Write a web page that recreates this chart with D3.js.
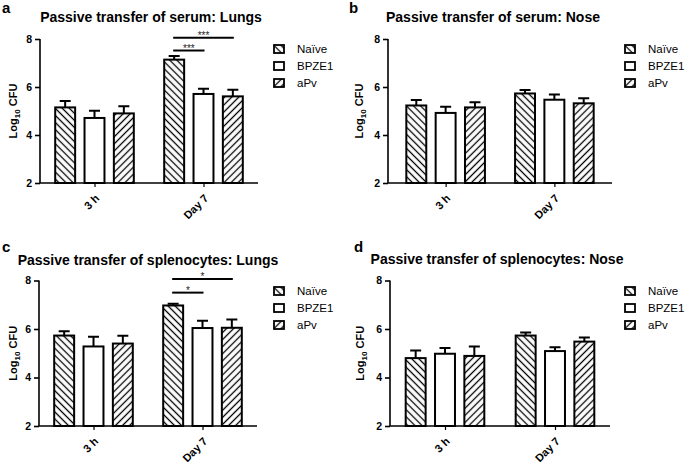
<!DOCTYPE html>
<html>
<head>
<meta charset="utf-8">
<script src="https://cdn.jsdelivr.net/npm/d3@7"></script>
<style>
  body { margin: 0; background: #fff; }
  svg { display: block; font-family: Arial, "Liberation Sans", sans-serif; }
</style>
</head>
<body>
<svg id="chart" width="685" height="465"></svg>
<script>
// categories
const groups = ["3 h", "Day 7"];
const series = ["Naïve", "BPZE1", "aPv"];
const yTicks = [2, 4, 6, 8];

// values, order: 3 h (Naïve, BPZE1, aPv), Day 7 (Naïve, BPZE1, aPv)
const serumLungsMean = [5.15, 4.71, 4.90, 7.14, 5.71, 5.61];
const serumLungsErr  = [0.27, 0.30, 0.30, 0.15, 0.22, 0.28];
const serumNoseMean  = [5.23, 4.92, 5.15, 5.73, 5.47, 5.32];
const serumNoseErr   = [0.23, 0.26, 0.21, 0.14, 0.22, 0.21];
const splenLungsMean = [5.73, 5.28, 5.40, 6.97, 6.04, 6.05];
const splenLungsErr  = [0.18, 0.40, 0.32, 0.07, 0.30, 0.34];
const splenNoseMean  = [4.80, 4.98, 4.89, 5.73, 5.09, 5.48];
const splenNoseErr   = [0.31, 0.24, 0.39, 0.13, 0.16, 0.17];

// significance brackets (Day 7)
const serumLungsSig = [
  {from: "Naïve", to: "BPZE1", level: 7.52, label: "***"},
  {from: "Naïve", to: "aPv", level: 8.05, label: "***"}
];
const splenLungsSig = [
  {from: "Naïve", to: "BPZE1", level: 7.5, label: "*"},
  {from: "Naïve", to: "aPv", level: 8.06, label: "*"}
];

const panels = [
  {letter: "a", title: "Passive transfer of serum: Lungs", mean: serumLungsMean, err: serumLungsErr, sig: serumLungsSig,
   x0: 40, x1: 258, pad: 0.5, yTop: 39, yBot: 183, letterX: 2, letterY: 13, titleX: 151, titleY: 22, ylabX: 17, legX: 274, legY: 49},
  {letter: "b", title: "Passive transfer of serum: Nose", mean: serumNoseMean, err: serumNoseErr, sig: [],
   x0: 388, x1: 612, pad: 0.53, yTop: 39, yBot: 183, letterX: 349, letterY: 13, titleX: 493, titleY: 22, ylabX: 363, legX: 625, legY: 49},
  {letter: "c", title: "Passive transfer of splenocytes: Lungs", mean: splenLungsMean, err: splenLungsErr, sig: splenLungsSig,
   x0: 39, x1: 257, pad: 0.5, yTop: 280.5, yBot: 426, letterX: 2, letterY: 252, titleX: 148, titleY: 265, ylabX: 17, legX: 274, legY: 291},
  {letter: "d", title: "Passive transfer of splenocytes: Nose", mean: splenNoseMean, err: splenNoseErr, sig: [],
   x0: 390, x1: 610, pad: 0.5, yTop: 280.5, yBot: 426, letterX: 354, letterY: 252, titleX: 497, titleY: 264, ylabX: 364, legX: 625, legY: 291}
];

const svg = d3.select("#chart");
const defs = svg.append("defs");

function hatch(id, angle) {
  const p = defs.append("pattern")
    .attr("id", id)
    .attr("patternUnits", "userSpaceOnUse")
    .attr("width", 5).attr("height", 5)
    .attr("patternTransform", `rotate(${angle})`);
  p.append("rect").attr("width", 5).attr("height", 5).attr("fill", "#fff");
  p.append("line").attr("x1", 2.5).attr("y1", -1).attr("x2", 2.5).attr("y2", 6)
    .attr("stroke", "#000").attr("stroke-width", 1.3);
}
hatch("hatchBack", -45);
hatch("hatchFwd", 45);

const fill = d3.scaleOrdinal()
  .domain(series)
  .range(["url(#hatchBack)", "#fff", "url(#hatchFwd)"]);

function drawPanel(cfg) {
  const g = svg.append("g");

  const x = d3.scalePoint()
    .domain(groups)
    .range([cfg.x0, cfg.x1])
    .padding(cfg.pad);

  const inner = d3.scaleBand()
    .domain(series)
    .range([-44, 44])
    .paddingInner(0.32)
    .paddingOuter(0.16);

  const y = d3.scaleLinear()
    .domain([2, 8])
    .range([cfg.yBot, cfg.yTop]);

  const data = [];
  groups.forEach((grp, gi) => {
    series.forEach((s, si) => {
      data.push({group: grp, series: s, mean: cfg.mean[gi * 3 + si], err: cfg.err[gi * 3 + si]});
    });
  });

  const cx = d => x(d.group) + inner(d.series) + inner.bandwidth() / 2;

  // error bars
  g.append("g")
    .attr("stroke", "#000")
    .attr("stroke-width", 2)
    .selectAll("path")
    .data(data)
    .join("path")
    .attr("fill", "none")
    .attr("d", d => {
      const c = cx(d), top = y(d.mean + d.err);
      return `M${c},${y(d.mean)}V${top}M${c - 5.5},${top}H${c + 5.5}`;
    });

  // bars
  g.append("g")
    .selectAll("rect")
    .data(data)
    .join("rect")
    .attr("x", d => x(d.group) + inner(d.series))
    .attr("y", d => y(d.mean))
    .attr("width", inner.bandwidth())
    .attr("height", d => y(2) - y(d.mean))
    .attr("fill", d => fill(d.series))
    .attr("stroke", "#000")
    .attr("stroke-width", 2);

  // y axis
  const yAxis = g.append("g")
    .attr("transform", `translate(${cfg.x0},0)`)
    .call(d3.axisLeft(y).tickValues(yTicks).tickSize(5).tickPadding(3).tickFormat(d3.format("d")));
  yAxis.select(".domain").attr("stroke-width", 1.6).attr("d", `M0,${cfg.yTop}V${cfg.yBot}`);
  yAxis.selectAll(".tick line").attr("stroke-width", 1.6);
  yAxis.selectAll(".tick text")
    .attr("font-size", 10.5)
    .attr("font-weight", "bold")
    .attr("font-family", "Arial, 'Liberation Sans', sans-serif")
    .attr("fill", "#000");

  // x axis
  const xAxis = g.append("g")
    .attr("transform", `translate(0,${cfg.yBot})`)
    .call(d3.axisBottom(x).tickSize(4).tickFormat(d => d));
  xAxis.select(".domain").attr("stroke-width", 1.6).attr("d", `M${cfg.x0},0H${cfg.x1}`);
  xAxis.selectAll(".tick line").attr("stroke-width", 1.2);
  xAxis.selectAll(".tick text")
    .attr("font-size", 11)
    .attr("font-weight", "bold")
    .attr("font-family", "Arial, 'Liberation Sans', sans-serif")
    .attr("fill", "#000")
    .attr("text-anchor", "end")
    .attr("y", 0).attr("dy", 0)
    .attr("transform", "translate(5,16) rotate(-45)");

  // y label
  const yl = g.append("text")
    .attr("transform", `translate(${cfg.ylabX},${(cfg.yTop + cfg.yBot) / 2}) rotate(-90)`)
    .attr("text-anchor", "middle")
    .attr("font-size", 11)
    .attr("font-weight", "bold");
  yl.append("tspan").text("Log");
  yl.append("tspan").attr("font-size", 8).attr("dy", 3).text("10");
  yl.append("tspan").attr("dy", -3).text(" CFU");

  // title and letter
  g.append("text")
    .attr("x", cfg.titleX).attr("y", cfg.titleY)
    .attr("text-anchor", "middle")
    .attr("font-size", 14).attr("font-weight", "bold")
    .text(cfg.title);
  g.append("text")
    .attr("x", cfg.letterX).attr("y", cfg.letterY)
    .attr("font-size", 15).attr("font-weight", "bold")
    .text(cfg.letter);

  // significance
  const sx = s => x("Day 7") + inner(s) + inner.bandwidth() / 2;
  const sig = g.append("g").attr("opacity", 0.99).selectAll("g").data(cfg.sig).join("g");
  sig.append("line")
    .attr("x1", d => sx(d.from) - 1).attr("x2", d => sx(d.to) + 1)
    .attr("y1", d => y(d.level)).attr("y2", d => y(d.level))
    .attr("stroke", "#000").attr("stroke-width", 2);
  sig.append("text")
    .attr("x", d => (sx(d.from) + sx(d.to)) / 2)
    .attr("y", d => y(d.level) + 1)
    .attr("text-anchor", "middle")
    .attr("font-size", 10)
    .attr("fill", "#222")
    .text(d => d.label);

  // legend
  const leg = g.append("g").selectAll("g").data(series).join("g")
    .attr("transform", (d, i) => `translate(${cfg.legX},${cfg.legY + i * 17})`);
  leg.append("rect")
    .attr("x", 0).attr("y", -4).attr("width", 10).attr("height", 8)
    .attr("fill", d => fill(d))
    .attr("stroke", "#000").attr("stroke-width", 1.8);
  leg.append("text")
    .attr("x", 23).attr("y", 4)
    .attr("font-size", 11.5)
    .text(d => d);
}

panels.forEach(drawPanel);
</script>
</body>
</html>
